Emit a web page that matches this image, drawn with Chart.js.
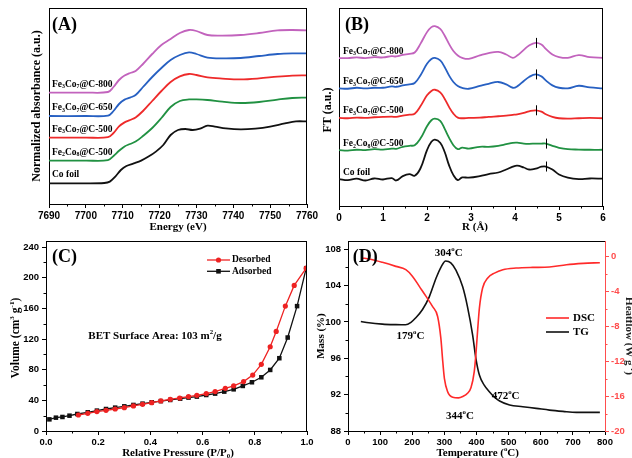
<!DOCTYPE html>
<html>
<head>
<meta charset="utf-8">
<script src="https://cdn.jsdelivr.net/npm/chart.js@4.4.1/dist/chart.umd.min.js"></script>
<style>
  html, body { margin: 0; padding: 0; background: #fff; }
  #fig { position: relative; width: 632px; height: 458px; overflow: hidden; }
  #fig canvas { position: absolute; }
</style>
</head>
<body>
<div id="fig">
  <canvas id="panelA" width="330" height="234" style="left:0;top:0"></canvas>
  <canvas id="panelC" width="330" height="224" style="left:0;top:234px"></canvas>
  <canvas id="panelB" width="316" height="234" style="left:316px;top:0"></canvas>
  <canvas id="panelD" width="316" height="224" style="left:316px;top:234px"></canvas>
</div>
<script>
const SERIF = '"Liberation Serif", "Times New Roman", serif';
const SANS = '"Liberation Sans", Arial, sans-serif';
Chart.defaults.color = '#000';
Chart.defaults.font.family = SANS;

// samples, bottom curve first (_n = subscript)
const samples = ['Co foil', 'Fe_2Co_8@C-500', 'Fe_3Co_7@C-500', 'Fe_3Co_7@C-650', 'Fe_3Co_7@C-800'];
const sampleColors = ['#111111', '#219142', '#ee2a2a', '#2760c2', '#c263bd'];

// (A) Co K-edge XANES, curves stacked (a.u.)
const energyCo = [7690, 7700, 7705, 7706.5, 7708, 7709.5, 7711, 7713, 7715, 7717, 7719, 7721, 7723, 7725, 7727, 7729, 7731, 7733, 7735, 7738, 7742, 7746, 7750, 7754, 7757, 7760];
const muCoFoil = [1.03, 1.03, 1.05, 1.12, 1.37, 1.70, 1.90, 2.03, 2.17, 2.37, 2.62, 2.95, 3.45, 3.70, 3.75, 3.70, 3.77, 3.92, 3.87, 3.78, 3.73, 3.77, 3.87, 4.03, 4.13, 4.13];
const energy = [7690, 7700, 7706, 7707.5, 7709, 7710.5, 7712, 7713.5, 7715.5, 7718, 7720.5, 7723, 7725.5, 7728, 7730, 7733, 7737, 7742, 7747, 7752, 7756, 7760];
const muFe2Co8_500 = [2.17, 2.17, 2.19, 2.40, 2.66, 2.88, 3.00, 3.12, 3.40, 3.80, 4.30, 4.85, 5.15, 5.23, 5.23, 5.20, 5.12, 5.05, 5.10, 5.22, 5.30, 5.32];
const muFe3Co7_500 = [3.32, 3.32, 3.34, 3.55, 3.88, 4.08, 4.20, 4.33, 4.65, 5.15, 5.65, 6.10, 6.38, 6.50, 6.45, 6.33, 6.27, 6.23, 6.28, 6.37, 6.42, 6.43];
const muFe3Co7_650 = [4.40, 4.40, 4.42, 4.65, 5.00, 5.22, 5.32, 5.45, 5.85, 6.35, 6.80, 7.20, 7.45, 7.58, 7.50, 7.32, 7.28, 7.30, 7.40, 7.50, 7.53, 7.53];
const muFe3Co7_800 = [5.57, 5.57, 5.60, 5.85, 6.20, 6.42, 6.55, 6.65, 7.00, 7.50, 7.95, 8.25, 8.55, 8.70, 8.65, 8.45, 8.42, 8.45, 8.55, 8.68, 8.70, 8.68];
const xanesX = [energyCo, energy, energy, energy, energy];
const xanesY = [muCoFoil, muFe2Co8_500, muFe3Co7_500, muFe3Co7_650, muFe3Co7_800];

// (B) Fourier-transformed EXAFS, stacked (a.u.)
const rDist = [0, 0.2, 0.4, 0.6, 0.8, 1.0, 1.2, 1.3, 1.45, 1.6, 1.72, 1.85, 2.0, 2.1, 2.18, 2.3, 2.4, 2.5, 2.6, 2.7, 2.8, 2.95, 3.2, 3.4, 3.62, 3.8, 3.95, 4.05, 4.2, 4.32, 4.47, 4.6, 4.7, 4.85, 5.0, 5.2, 5.45, 5.7, 6.0];
const ftCoFoil = [1.35, 1.30, 1.37, 1.28, 1.38, 1.33, 1.40, 1.28, 1.50, 1.60, 1.52, 1.88, 2.80, 3.22, 3.33, 3.17, 2.72, 2.05, 1.55, 1.30, 1.43, 1.42, 1.50, 1.60, 1.68, 1.83, 1.97, 2.02, 1.93, 1.83, 1.87, 1.97, 1.98, 1.83, 1.58, 1.42, 1.35, 1.38, 1.37];
const ftFe2Co8_500 = [2.80, 2.78, 2.82, 2.80, 2.85, 2.83, 2.88, 2.87, 2.97, 3.02, 3.05, 3.38, 4.00, 4.30, 4.38, 4.27, 3.88, 3.43, 3.05, 2.85, 2.93, 2.88, 2.97, 2.97, 3.02, 3.10, 3.17, 3.18, 3.13, 3.12, 3.13, 3.13, 3.13, 3.02, 2.92, 2.85, 2.83, 2.82, 2.82];
const ftFe3Co7_500 = [4.42, 4.40, 4.43, 4.42, 4.45, 4.47, 4.48, 4.47, 4.53, 4.58, 4.63, 5.00, 5.55, 5.77, 5.83, 5.70, 5.38, 4.97, 4.63, 4.43, 4.40, 4.42, 4.43, 4.47, 4.50, 4.53, 4.57, 4.60, 4.67, 4.75, 4.80, 4.73, 4.60, 4.47, 4.40, 4.38, 4.40, 4.42, 4.40];
const ftFe3Co7_650 = [5.90, 5.88, 5.93, 5.90, 5.93, 5.93, 6.00, 5.98, 6.05, 6.10, 6.17, 6.55, 7.13, 7.37, 7.43, 7.30, 6.97, 6.55, 6.22, 6.02, 5.92, 5.88, 6.02, 6.13, 6.22, 6.10, 5.93, 6.00, 6.27, 6.47, 6.60, 6.50, 6.30, 6.05, 5.93, 5.90, 6.03, 5.95, 5.90];
const ftFe3Co7_800 = [7.42, 7.42, 7.45, 7.42, 7.47, 7.45, 7.52, 7.50, 7.58, 7.63, 7.70, 8.13, 8.72, 8.97, 9.02, 8.88, 8.55, 8.13, 7.77, 7.55, 7.43, 7.38, 7.55, 7.67, 7.73, 7.60, 7.43, 7.55, 7.83, 8.05, 8.18, 8.10, 7.88, 7.60, 7.47, 7.43, 7.57, 7.47, 7.43];
const ftY = [ftCoFoil, ftFe2Co8_500, ftFe3Co7_500, ftFe3Co7_650, ftFe3Co7_800];
const peakMarkR = [4.7, 4.7, 4.47, 4.47, 4.47];

// (C) N2 isotherm
const adsP = [0.013, 0.038, 0.063, 0.09, 0.12, 0.16, 0.195, 0.23, 0.265, 0.3, 0.335, 0.37, 0.405, 0.44, 0.476, 0.514, 0.546, 0.578, 0.614, 0.648, 0.683, 0.719, 0.754, 0.789, 0.825, 0.859, 0.894, 0.926, 0.962, 0.997];
const adsV = [15.2, 17.4, 18.3, 20.0, 22.2, 24.4, 26.6, 28.7, 30.5, 32.2, 34.0, 35.7, 37.5, 39.0, 40.5, 42.2, 43.6, 44.9, 47.0, 48.8, 51.4, 54.4, 58.8, 63.6, 70.1, 79.7, 95.0, 122.0, 163.0, 212.5];
const desP = [0.124, 0.16, 0.195, 0.23, 0.265, 0.3, 0.335, 0.37, 0.405, 0.44, 0.476, 0.512, 0.546, 0.578, 0.614, 0.648, 0.687, 0.719, 0.757, 0.792, 0.825, 0.859, 0.882, 0.917, 0.951, 0.997];
const desV = [20.9, 23.1, 25.3, 27.0, 28.7, 30.5, 32.7, 34.8, 37.0, 39.2, 41.4, 43.1, 44.9, 46.6, 48.8, 51.4, 55.7, 59.0, 64.5, 73.0, 87.0, 110.0, 130.0, 163.0, 190.0, 212.5];
const bet = 103;

// (D) TG / DSC
const tgT = [40, 65, 107, 149, 179, 196, 211, 232, 253, 274, 290, 304, 320, 336, 357, 372, 388, 398, 409, 424, 440, 455, 472, 503, 544, 586, 627, 669, 711, 752, 784];
const tgMass = [100.05, 99.9, 99.76, 99.7, 99.68, 99.95, 100.45, 101.37, 102.76, 104.8, 106.06, 106.7, 106.5, 105.7, 103.86, 101.66, 98.55, 96.0, 94.15, 93.05, 92.32, 91.75, 91.3, 90.86, 90.67, 90.49, 90.3, 90.16, 90.05, 90.05, 90.05];
const dscT = [45, 66, 107, 149, 180, 201, 222, 243, 263, 279, 289, 295, 300, 310, 326, 344, 357, 372, 383, 393, 398, 404, 409, 419, 435, 456, 482, 523, 575, 627, 680, 732, 784];
const dscHF = [-0.15, -0.27, -0.65, -1.11, -1.49, -2.26, -3.41, -4.56, -5.71, -6.86, -9.35, -12.03, -13.95, -15.48, -16.13, -16.2, -16.05, -15.67, -15.02, -13.18, -11.26, -8.2, -5.9, -3.6, -2.45, -1.88, -1.49, -1.3, -1.23, -1.19, -0.92, -0.77, -0.69];
const tgMarks = [179, 304, 472];
const dscMarks = [344];

function pts(xs, ys) { return xs.map((x, i) => ({ x, y: ys[i] })); }

// "_x" / "_{..}" subscript, "^x" / "^{..}" superscript
function richParts(str) {
  const parts = [];
  const re = /([_^])(\{([^}]*)\}|(.))/g;
  let last = 0, m;
  while ((m = re.exec(str))) {
    if (m.index > last) parts.push([str.slice(last, m.index), 0]);
    parts.push([m[3] !== undefined ? m[3] : m[4], m[1] === '_' ? 1 : 2]);
    last = re.lastIndex;
  }
  if (last < str.length) parts.push([str.slice(last), 0]);
  return parts;
}

function drawRich(ctx, str, x, y, size, align) {
  const parts = richParts(str);
  const fontFor = k => `bold ${k ? size * 0.62 : size}px ${SERIF}`;
  let w = 0;
  parts.forEach(p => { ctx.font = fontFor(p[1]); w += ctx.measureText(p[0]).width; });
  let cx = align === 'center' ? x - w / 2 : x;
  ctx.textAlign = 'left';
  ctx.textBaseline = 'middle';
  parts.forEach(p => {
    ctx.font = fontFor(p[1]);
    const dy = p[1] === 1 ? size * 0.3 : p[1] === 2 ? -size * 0.35 : 0;
    ctx.fillText(p[0], cx, y + dy);
    cx += ctx.measureText(p[0]).width;
  });
}

function drawRotated(ctx, str, x, y, size, angle) {
  ctx.save();
  ctx.translate(x, y);
  ctx.rotate(angle);
  drawRich(ctx, str, 0, 0, size, 'center');
  ctx.restore();
}

function axis(min, max, step, fmt, fontSize) {
  return {
    type: 'linear', min, max,
    ticks: {
      stepSize: step, autoSkip: false, includeBounds: false, maxRotation: 0, padding: 2, color: '#000',
      font: { family: SANS, weight: 'bold', size: fontSize }, callback: fmt
    },
    grid: { drawOnChartArea: false, tickLength: 4, tickColor: '#000', tickWidth: 1 },
    border: { color: '#000', width: 1 }
  };
}
const fitX = h => s => { s.height = h; s.paddingLeft = 0; s.paddingRight = 0; };
const fitY = w => s => { s.width = w; s.paddingTop = 0; s.paddingBottom = 0; };

function baseOptions(padding, scales, frame) {
  return {
    responsive: false, animation: false, devicePixelRatio: 1,
    layout: { padding },
    plugins: { legend: { display: false }, tooltip: { enabled: false }, frame },
    scales
  };
}

// box outline plus short minor ticks
const framePlugin = {
  id: 'frame',
  afterDraw(chart, args, opts) {
    const { ctx, chartArea: a } = chart;
    ctx.save();
    ctx.lineWidth = 1;
    ctx.strokeStyle = '#000';
    ctx.beginPath();
    ctx.moveTo(a.left, a.top + 0.5); ctx.lineTo(a.right, a.top + 0.5);
    if (opts.right !== false) { ctx.moveTo(a.right - 0.5, a.top); ctx.lineTo(a.right - 0.5, a.bottom); }
    ctx.stroke();
    (opts.minor || []).forEach(m => {
      const s = chart.scales[m.id];
      ctx.strokeStyle = m.color || '#000';
      ctx.beginPath();
      for (let i = Math.ceil(s.min / m.step - 1e-6); i * m.step <= s.max + 1e-6; i++) {
        const v = i * m.step;
        if (Math.abs(v / m.major - Math.round(v / m.major)) < 1e-6) continue;
        const p = Math.round(s.getPixelForValue(v)) + 0.5;
        if (s.isHorizontal()) { ctx.moveTo(p, a.bottom); ctx.lineTo(p, a.bottom + 2.5); }
        else if (s.position === 'right') { ctx.moveTo(a.right, p); ctx.lineTo(a.right + 2.5, p); }
        else { ctx.moveTo(a.left - 2.5, p); ctx.lineTo(a.left, p); }
      }
      ctx.stroke();
    });
    ctx.restore();
  }
};

const hiddenY = (max, w) => ({
  type: 'linear', min: 0, max,
  ticks: { display: false }, grid: { display: false },
  border: { color: '#000', width: 1 }, afterFit: fitY(w)
});

const stackedLine = (xs, ys, i, tension) => ({
  data: pts(xs, ys), borderColor: sampleColors[i], borderWidth: 1.8,
  pointRadius: 0, tension, fill: false
});

// (A)
const xA = axis(7690, 7760, 10, v => String(v), 10);
xA.afterFit = fitX(30);
new Chart(document.getElementById('panelA'), {
  type: 'line',
  data: { datasets: samples.map((s, i) => stackedLine(xanesX[i], xanesY[i], i, 0.35)) },
  options: baseOptions({ top: 8, right: 23, left: 0, bottom: 0 },
    { x: xA, y: hiddenY(9.8, 49) },
    { minor: [{ id: 'x', step: 5, major: 10 }] }),
  plugins: [framePlugin, {
    id: 'textA',
    afterDraw(chart) {
      const { ctx, scales: { x, y } } = chart;
      ctx.save();
      ctx.fillStyle = '#000';
      drawRich(ctx, '(A)', 52, 25, 18, 'left');
      samples.forEach((name, i) => {
        drawRich(ctx, name, x.getPixelForValue(xanesX[i][0]) + 3, y.getPixelForValue(xanesY[i][0]) - 8.5, 9.5, 'left');
      });
      drawRotated(ctx, 'Normalized absorbance (a.u.)', 37, 106, 12, -Math.PI / 2);
      drawRich(ctx, 'Energy (eV)', 178, 227, 11, 'center');
      ctx.restore();
    }
  }]
});

// (B)
const xB = axis(0, 6, 1, v => String(v), 10);
xB.afterFit = fitX(28);
new Chart(document.getElementById('panelB'), {
  type: 'line',
  data: { datasets: samples.map((s, i) => stackedLine(rDist, ftY[i], i, 0.4)) },
  options: baseOptions({ top: 8, right: 29, left: 0, bottom: 0 },
    { x: xB, y: hiddenY(9.93, 23) },
    { minor: [{ id: 'x', step: 0.5, major: 1 }] }),
  plugins: [framePlugin, {
    id: 'textB',
    afterDraw(chart) {
      const { ctx, scales: { x, y } } = chart;
      ctx.save();
      ctx.fillStyle = '#000';
      drawRich(ctx, '(B)', 29, 25, 18, 'left');
      samples.forEach((name, i) => {
        drawRich(ctx, name, x.getPixelForValue(rDist[0]) + 4, y.getPixelForValue(ftY[i][0]) - 7, 9.5, 'left');
        const k = rDist.indexOf(peakMarkR[i]);
        const px = Math.round(x.getPixelForValue(peakMarkR[i])) + 0.5;
        const py = y.getPixelForValue(ftY[i][k]);
        ctx.strokeStyle = '#000';
        ctx.lineWidth = 1;
        ctx.beginPath();
        ctx.moveTo(px, py - 5); ctx.lineTo(px, py + 5);
        ctx.stroke();
      });
      drawRotated(ctx, 'FT (a.u.)', 11.7, 110, 12, -Math.PI / 2);
      drawRich(ctx, 'R (Å)', 159, 227, 11, 'center');
      ctx.restore();
    }
  }]
});

// (C)
const xC = axis(0, 1, 0.2, v => v.toFixed(1), 9.5);
xC.afterFit = fitX(27);
const yC = axis(0, 248, 40, v => String(v), 9.5);
yC.ticks.padding = 3;
yC.afterFit = fitY(46);
new Chart(document.getElementById('panelC'), {
  type: 'line',
  data: {
    datasets: [
      { label: 'Desorbed', data: pts(desP, desV), borderColor: '#ee2222', backgroundColor: '#ee2222',
        borderWidth: 1.3, pointStyle: 'circle', pointRadius: 2.6, pointBorderWidth: 0, tension: 0 },
      { label: 'Adsorbed', data: pts(adsP, adsV), borderColor: '#111', backgroundColor: '#111',
        borderWidth: 1.3, pointStyle: 'rect', pointRadius: 3.2, pointBorderWidth: 0, tension: 0 }
    ]
  },
  options: baseOptions({ top: 7, right: 23, left: 0, bottom: 0 },
    { x: xC, y: yC },
    { minor: [{ id: 'x', step: 0.1, major: 0.2 }, { id: 'y', step: 20, major: 40 }] }),
  plugins: [framePlugin, {
    id: 'textC',
    afterDraw(chart) {
      const { ctx } = chart;
      ctx.save();
      ctx.fillStyle = '#000';
      drawRich(ctx, '(C)', 52, 23, 18, 'left');
      drawRich(ctx, `BET Surface Area: ${bet} m^2/g`, 155, 101.7, 11, 'center');
      drawRotated(ctx, 'Volume (cm^3 g^{-1})', 16.5, 104, 11.5, -Math.PI / 2);
      drawRich(ctx, 'Relative Pressure (P/P_0)', 178, 219, 11, 'center');
      chart.data.datasets.forEach((ds, i) => {
        const ly = 26 + i * 11.3;
        ctx.strokeStyle = ds.borderColor;
        ctx.fillStyle = ds.borderColor;
        ctx.lineWidth = 1.3;
        ctx.beginPath();
        ctx.moveTo(207, ly); ctx.lineTo(230, ly);
        ctx.stroke();
        if (ds.pointStyle === 'circle') {
          ctx.beginPath(); ctx.arc(218.5, ly, 2.6, 0, Math.PI * 2); ctx.fill();
        } else {
          ctx.fillRect(216.2, ly - 2.3, 4.6, 4.6);
        }
        ctx.fillStyle = '#000';
        drawRich(ctx, ds.label, 232, ly, 9.5, 'left');
      });
      ctx.restore();
    }
  }]
});

// (D)
const xD = axis(0, 800, 100, v => String(v), 9.5);
xD.afterFit = fitX(27);
const yD = axis(88, 108.9, 4, v => String(v), 9.5);
yD.ticks.padding = 3;
yD.afterFit = fitY(32);
const y2D = axis(-20, 1.8, 4, v => String(v), 9.5);
y2D.position = 'right';
y2D.ticks.color = '#ff4d4d';
y2D.grid.tickColor = '#ff4d4d';
y2D.border.color = '#ff4d4d';
y2D.afterFit = fitY(27);
new Chart(document.getElementById('panelD'), {
  type: 'line',
  data: {
    datasets: [
      { label: 'DSC', data: pts(dscT, dscHF), yAxisID: 'y2', borderColor: '#ff2a2a', borderWidth: 1.6,
        pointRadius: 0, cubicInterpolationMode: 'monotone' },
      { label: 'TG', data: pts(tgT, tgMass), yAxisID: 'y', borderColor: '#111', borderWidth: 1.6,
        pointRadius: 0, cubicInterpolationMode: 'monotone' }
    ]
  },
  options: baseOptions({ top: 7, right: 0, left: 0, bottom: 0 },
    { x: xD, y: yD, y2: y2D },
    { right: false, minor: [
      { id: 'x', step: 50, major: 100 },
      { id: 'y', step: 2, major: 4 },
      { id: 'y2', step: 2, major: 4, color: '#ff4d4d' }
    ] }),
  plugins: [framePlugin, {
    id: 'textD',
    afterDraw(chart) {
      const { ctx, scales: { x, y, y2 } } = chart;
      ctx.save();
      ctx.fillStyle = '#000';
      drawRich(ctx, '(D)', 36.7, 23, 18, 'left');
      drawRotated(ctx, 'Mass (%)', 5, 102, 11, -Math.PI / 2);
      drawRich(ctx, 'Temperature (^oC)', 161.7, 219, 11, 'center');
      ctx.fillStyle = '#222';
      drawRotated(ctx, 'Heatflow (W g^{-1})', 313, 102, 11, Math.PI / 2);
      ctx.fillStyle = '#000';
      // peak temperatures
      const tgOffsets = [[5, 11], [3, -7.5], [6, -5]];
      tgMarks.forEach((t, i) => {
        const m = tgMass[tgT.indexOf(t)];
        drawRich(ctx, `${t}^oC`, x.getPixelForValue(t) + tgOffsets[i][0], y.getPixelForValue(m) + tgOffsets[i][1], 11, 'center');
      });
      dscMarks.forEach(t => {
        const h = dscHF[dscT.indexOf(t)];
        drawRich(ctx, `${t}^oC`, x.getPixelForValue(t) + 1.5, y2.getPixelForValue(h) + 18, 11, 'center');
      });
      chart.data.datasets.forEach((ds, i) => {
        const ly = 84 + i * 14;
        ctx.strokeStyle = ds.borderColor;
        ctx.lineWidth = 1.6;
        ctx.beginPath();
        ctx.moveTo(230, ly); ctx.lineTo(253, ly);
        ctx.stroke();
        ctx.fillStyle = '#000';
        drawRich(ctx, ds.label, 257, ly, 11, 'left');
      });
      ctx.restore();
    }
  }]
});
</script>
</body>
</html>
